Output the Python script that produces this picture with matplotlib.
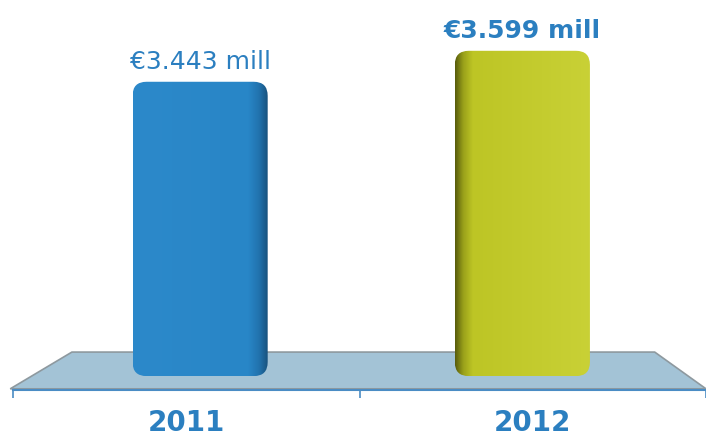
#!/usr/bin/env python3
# revenue_bars.py

import numpy as np
import matplotlib.pyplot as plt
from matplotlib.colors import LinearSegmentedColormap
from matplotlib.patches import FancyBboxPatch, Polygon

years = ["2011", "2012"]
values = [3.443, 3.599]
value_labels = ["€3.443 mill", "€3.599 mill"]
label_bold = [False, True]

BASE = 1.96
TEXT_BLUE = "#2B7FC0"

blue_cmap = LinearSegmentedColormap.from_list(
    "blue", [(0.0, "#2C89CA"), (0.85, "#2886C7"), (0.93, "#2172AD"), (1.0, "#174E78")])
green_cmap = LinearSegmentedColormap.from_list(
    "green", [(0.0, "#585C0C"), (0.06, "#9AA11A"), (0.13, "#BDC525"), (1.0, "#C9D136")])


def draw_bar(ax, bar, cmap, aspect):
    x0, y0 = bar.get_x(), bar.get_y()
    w, h = bar.get_width(), bar.get_height()
    bar.set_visible(False)
    r = 14 / 346.5
    patch = FancyBboxPatch((x0, y0), w, h,
                           boxstyle=f"round,pad=0,rounding_size={r}",
                           mutation_aspect=aspect, fc="none", ec="none")
    ax.add_patch(patch)
    grad = np.linspace(0, 1, 256).reshape(1, -1)
    im = ax.imshow(grad, cmap=cmap, extent=(x0, x0 + w, y0, y0 + h),
                   aspect="auto", origin="lower", interpolation="bilinear", zorder=3)
    im.set_clip_path(patch)


def main():
    fig = plt.figure(figsize=(7.06, 4.39), dpi=100)
    ax = fig.add_axes([13 / 706, 48 / 439, 693 / 706, 391 / 439])
    xlim, ylim = (-0.5, 1.5), (1.89, 3.86)

    # floor of the 3d chart
    floor = Polygon([(-0.004, 0.003), (0.085, 0.097), (0.926, 0.097), (1.0, 0.003)],
                    closed=True, transform=ax.transAxes, fc="#A3C3D6", ec="#8E999F",
                    lw=1.2, clip_on=False, zorder=1)
    ax.add_patch(floor)

    x = np.arange(len(years)) + np.array([0.04, -0.03])
    bars = ax.bar(x, np.array(values) - BASE, bottom=BASE, width=0.39, zorder=3)

    aspect = (693 / (xlim[1] - xlim[0])) / (391 / (ylim[1] - ylim[0]))
    for bar, cmap in zip(bars, [blue_cmap, green_cmap]):
        draw_bar(ax, bar, cmap, aspect)

    for xi, v, lab, b in zip(x, values, value_labels, label_bold):
        ax.annotate(lab, (xi, v), xytext=(0, 10), textcoords="offset points",
                    ha="center", va="baseline", fontsize=18, color=TEXT_BLUE,
                    fontweight="bold" if b else "normal")

    ax.set_xlim(*xlim)
    ax.set_ylim(*ylim)
    ax.set_xticks(range(len(years)))
    ax.set_xticklabels(years, fontsize=20, fontweight="bold", color=TEXT_BLUE)
    ax.set_xticks([-0.5, 0.5, 1.5], minor=True)
    ax.tick_params(axis="x", which="major", length=0, pad=13)
    ax.tick_params(axis="x", which="minor", length=6, width=1.2, color="#4A8CC4")
    ax.set_yticks([])
    for s in ["top", "left", "right"]:
        ax.spines[s].set_visible(False)
    ax.spines["bottom"].set_color("#4A8CC4")
    ax.spines["bottom"].set_linewidth(1.5)
    ax.patch.set_alpha(0)

    fig.savefig("out.png", dpi=100)


if __name__ == "__main__":
    main()
